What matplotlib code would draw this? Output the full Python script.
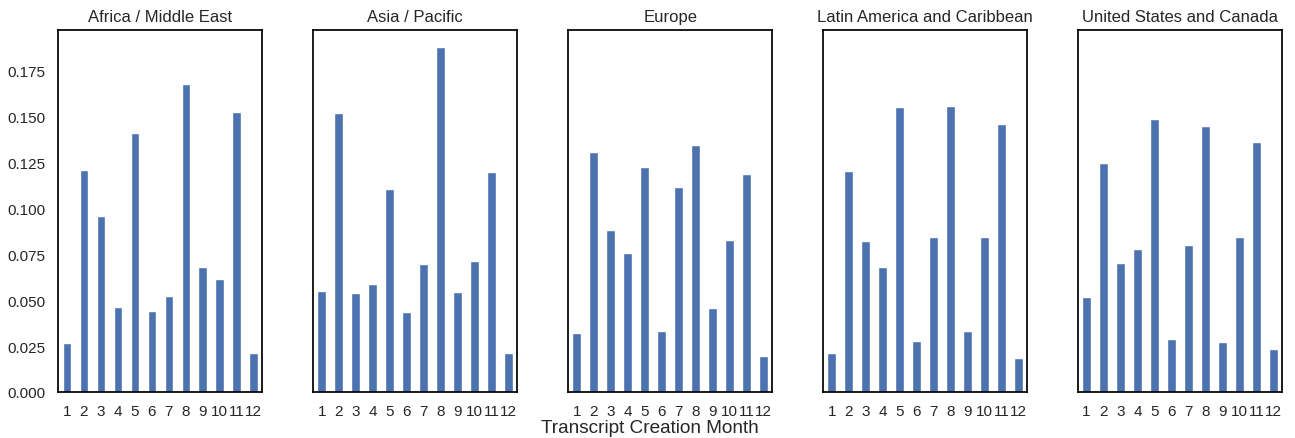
import matplotlib
matplotlib.use("Agg")
import matplotlib.pyplot as plt
import seaborn as sns
import numpy as np

sns.set_theme(style="white", context="notebook")
plt.rcParams['font.family'] = ['Liberation Sans', 'DejaVu Sans']

months = [str(m) for m in range(1, 13)]
regions = ["Africa / Middle East", "Asia / Pacific", "Europe",
           "Latin America and Caribbean", "United States and Canada"]

africa = [0.0267, 0.1210, 0.0957, 0.0463, 0.1412, 0.0443, 0.0521, 0.1676, 0.0681, 0.0617, 0.1523, 0.0211]
asia = [0.0548, 0.1521, 0.0539, 0.0586, 0.1104, 0.0436, 0.0695, 0.1879, 0.0545, 0.0712, 0.1196, 0.0214]
europe = [0.0323, 0.1309, 0.0882, 0.0759, 0.1225, 0.0332, 0.1115, 0.1345, 0.0459, 0.0830, 0.1186, 0.0198]
latam = [0.0214, 0.1206, 0.0822, 0.0681, 0.1550, 0.0280, 0.0842, 0.1560, 0.0332, 0.0846, 0.1460, 0.0183]
us_ca = [0.0517, 0.1249, 0.0703, 0.0779, 0.1487, 0.0287, 0.0802, 0.1447, 0.0272, 0.0846, 0.1360, 0.0232]

series = [africa, asia, europe, latam, us_ca]

fig, axes = plt.subplots(1, 5, figsize=(12.95, 4.39), dpi=100, sharey=True)
fig.subplots_adjust(left=0.045, right=0.99, bottom=0.105, top=0.93, wspace=0.25)

x = np.arange(len(months))
for ax, name, vals in zip(axes, regions, series):
    ax.bar(x, vals, width=0.5, color="#4C72B0")
    ax.set_xticks(x)
    ax.set_xticklabels(months, rotation=0)
    ax.set_xlim(-0.5, 11.5)
    ax.set_title(name, fontsize=12, pad=6)
    ax.tick_params(labelsize=11, pad=3)
    for s in ax.spines.values():
        s.set_color("black")
        s.set_linewidth(1.25)

axes[0].set_ylim(0, 0.1973)
axes[0].set_yticks([0.0, 0.025, 0.05, 0.075, 0.1, 0.125, 0.15, 0.175])
axes[0].set_yticklabels(["0.000", "0.025", "0.050", "0.075", "0.100", "0.125", "0.150", "0.175"])

fig.text(0.502, 0.025, "Transcript Creation Month", ha="center", va="center", fontsize=13.7)

fig.savefig("out.png", dpi=100)
